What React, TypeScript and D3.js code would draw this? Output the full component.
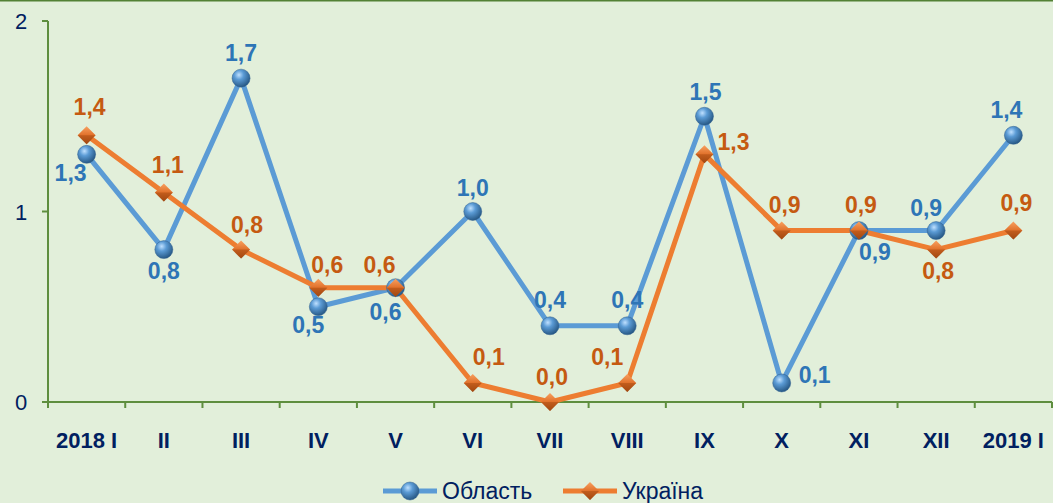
import React from "react";
import * as d3 from "d3";

const categories = ["2018 I", "II", "III", "IV", "V", "VI", "VII", "VIII", "IX", "X", "XI", "XII", "2019 I"];
const oblast = [1.3, 0.8, 1.7, 0.5, 0.6, 1.0, 0.4, 0.4, 1.5, 0.1, 0.9, 0.9, 1.4];
const ukraine = [1.4, 1.1, 0.8, 0.6, 0.6, 0.1, 0.0, 0.1, 1.3, 0.9, 0.9, 0.8, 0.9];
const yTicks = [0, 1, 2];

// label layout (dx, dy from point; anchor)
const oblastLabelLayout: [number, number, string][] = [
  [-16, 27, "middle"], [0, 29, "middle"], [0, -17, "middle"], [-10, 26, "middle"],
  [-10, 32, "middle"], [0, -16, "middle"], [0, -18, "middle"], [0, -18, "middle"],
  [1, -16, "middle"], [17, 0, "start"], [16, 29, "middle"], [-10, -15, "middle"], [-7, -17, "middle"],
];
const ukraineLabelLayout: [number, number, string][] = [
  [3, -20, "middle"], [4, -19, "middle"], [6, -17, "middle"], [9, -15, "middle"],
  [-16, -15, "middle"], [16, -18, "middle"], [2, -17, "middle"], [-20, -18, "middle"],
  [13, -4, "start"], [3, -18, "middle"], [2, -18, "middle"], [2, 29, "middle"], [3, -20, "middle"],
];

const W = 1053;
const H = 503;
const BLUE = "#5B9BD5";
const ORANGE = "#ED7D31";
const BLUE_TXT = "#2E75B6";
const ORANGE_TXT = "#C55A11";
const NAVY = "#002060";
const AXIS = "#5E8E3E";

const fmt = (v: number) => v.toFixed(1).replace(".", ",");

export default function App() {
  const x = d3.scaleBand<string>().domain(categories).range([48, 1052]);
  const y = d3.scaleLinear().domain([0, 2]).range([402, 21]);
  const cx = (c: string) => (x(c) as number) + x.bandwidth() / 2;
  const line = d3.line<number>().x((_, i) => cx(categories[i])).y((d) => y(d));
  const tickXs = [...categories.map((c) => x(c) as number), 1052];

  const sphere = (px: number, py: number, k: string) => (
    <g key={k}>
      <circle cx={px} cy={py} r={9} fill="url(#sph)" stroke="#2F5F8F" strokeWidth={0.5} />
    </g>
  );
  const diamond = (px: number, py: number, k: string, s = 9) => (
    <g key={k}>
      <path d={`M${px},${py - s}L${px + s},${py}L${px},${py + s}L${px - s},${py}Z`} fill="url(#dia)" />
      <path d={`M${px - s},${py}L${px + s},${py}L${px},${py + s}Z`} fill="#A64A10" opacity={0.5} />
    </g>
  );

  return (
    <svg width={W} height={H} style={{ position: "fixed", left: 0, top: 0, fontFamily: "'Liberation Sans', Arial, sans-serif" }}>
      <defs>
        <radialGradient id="sph" cx="0.38" cy="0.32" r="0.75">
          <stop offset="0" stopColor="#BFE0FF" />
          <stop offset="0.35" stopColor="#5B9BD5" />
          <stop offset="1" stopColor="#1F4E79" />
        </radialGradient>
        <linearGradient id="dia" x1="0" y1="0" x2="0" y2="1">
          <stop offset="0" stopColor="#F8A060" />
          <stop offset="0.5" stopColor="#E0702A" />
          <stop offset="1" stopColor="#9C4410" />
        </linearGradient>
      </defs>
      <rect x={0} y={0} width={W} height={H} fill="#E2EFDA" />
      <line x1={0} x2={W} y1={0.75} y2={0.75} stroke="#538135" strokeWidth={1.5} />
      <line x1={48} x2={48} y1={21} y2={402} stroke={AXIS} strokeWidth={2} />
      <line x1={48} x2={1052} y1={402} y2={402} stroke={AXIS} strokeWidth={2} />
      {yTicks.map((t) => (
        <g key={"yt" + t}>
          <line x1={42} x2={48} y1={y(t)} y2={y(t)} stroke={AXIS} strokeWidth={2} />
          <text x={21} y={y(t) + 8} fontSize={22} fill={NAVY} textAnchor="middle">{t}</text>
        </g>
      ))}
      {tickXs.map((tx, i) => (
        <line key={"xt" + i} x1={tx} x2={tx} y1={402} y2={408} stroke={AXIS} strokeWidth={2} />
      ))}
      {categories.map((c) => (
        <text key={"xl" + c} x={cx(c)} y={448} fontSize={22} fontWeight="bold" fill={NAVY} textAnchor="middle">{c}</text>
      ))}
      <path d={line(oblast) as string} fill="none" stroke={BLUE} strokeWidth={5} strokeLinejoin="round" />
      <path d={line(ukraine) as string} fill="none" stroke={ORANGE} strokeWidth={5} strokeLinejoin="round" />
      {oblast.map((v, i) => sphere(cx(categories[i]), y(v), "s" + i))}
      {ukraine.map((v, i) => diamond(cx(categories[i]), y(v), "d" + i))}
      {oblast.map((v, i) => {
        const [dx, dy, anchor] = oblastLabelLayout[i];
        return (
          <text key={"ol" + i} x={cx(categories[i]) + dx} y={y(v) + dy} fontSize={23} fontWeight="bold" fill={BLUE_TXT} textAnchor={anchor}>{fmt(v)}</text>
        );
      })}
      {ukraine.map((v, i) => {
        const [dx, dy, anchor] = ukraineLabelLayout[i];
        return (
          <text key={"ul" + i} x={cx(categories[i]) + dx} y={y(v) + dy} fontSize={23} fontWeight="bold" fill={ORANGE_TXT} textAnchor={anchor}>{fmt(v)}</text>
        );
      })}
      <line x1={383} x2={437} y1={491} y2={491} stroke={BLUE} strokeWidth={5} />
      {sphere(410, 491, "ls")}
      <text x={442} y={499} fontSize={23} fill={NAVY}>Область</text>
      <line x1={563} x2={617} y1={491} y2={491} stroke={ORANGE} strokeWidth={5} />
      {diamond(590, 491, "ld")}
      <text x={622} y={499} fontSize={23} fill={NAVY}>Україна</text>
    </svg>
  );
}
